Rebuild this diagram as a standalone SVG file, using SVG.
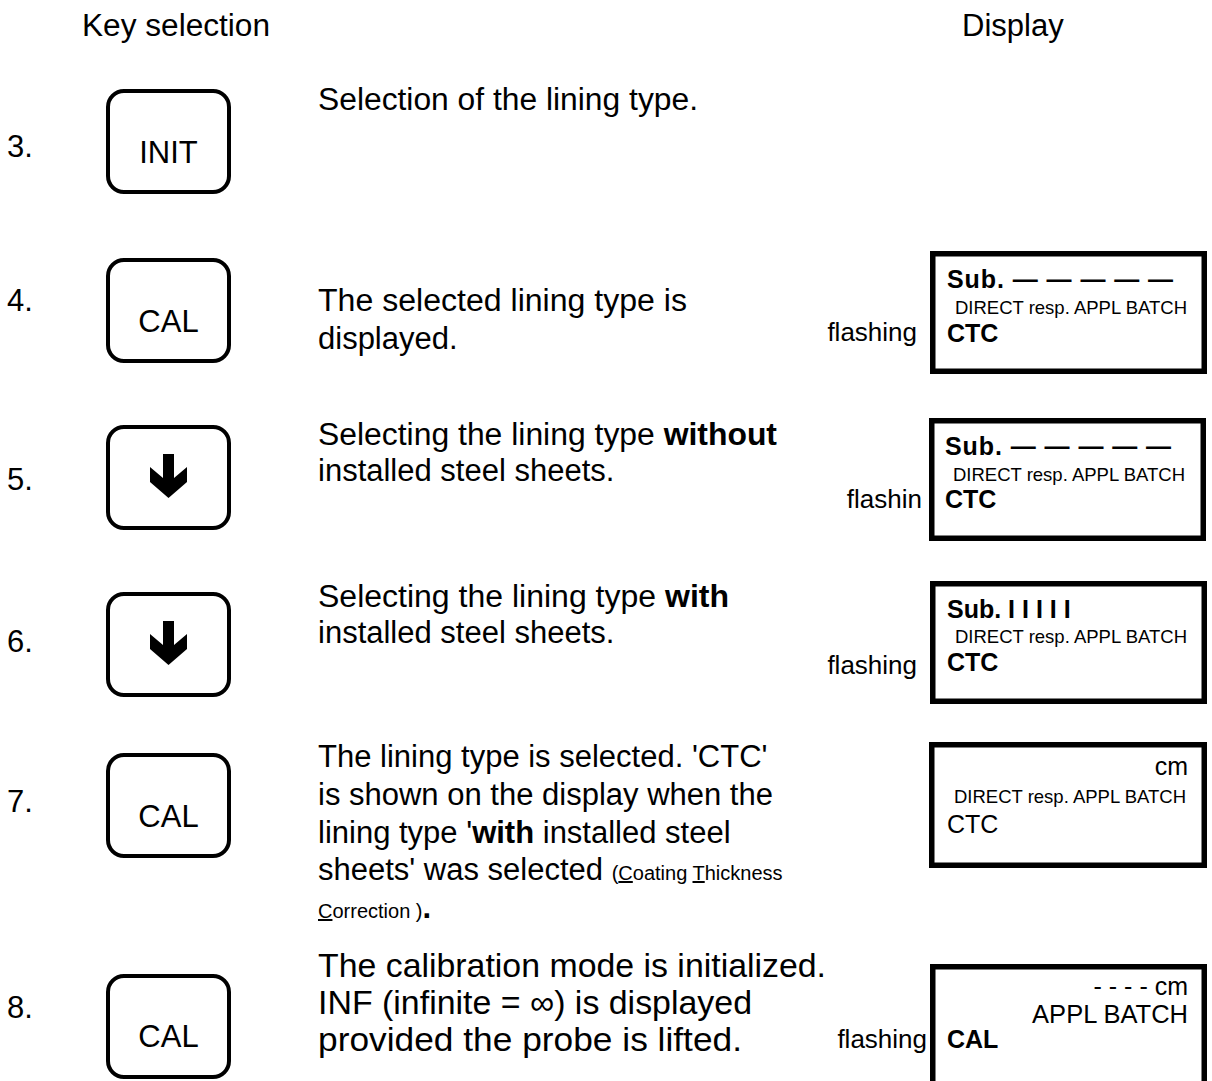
<svg xmlns="http://www.w3.org/2000/svg" width="1212" height="1081" viewBox="0 0 1212 1081">
<style>
text{font-family:"Liberation Sans",Arial,Helvetica,sans-serif;fill:#000}
.t{font-size:31px}
.t8{font-size:33.5px}
.n{font-size:31px}
.k{font-size:31px;text-anchor:middle}
.b{font-weight:bold}
.sm{font-size:20px}
.u{text-decoration:underline}
.dl{font-size:25px}
.ds{font-size:18.5px}
.fl{font-size:26px;text-anchor:end}
.end{text-anchor:end}
.key{fill:#fff;stroke:#000;stroke-width:4}
.disp{fill:#fff;stroke:#000;stroke-width:5.5}
</style>
<defs>
<rect id="keyshape" x="108" y="2" width="121" height="101" rx="16" ry="16"/>
<path id="downarrow" d="M163,29 L174,29 L174,53 L187,42 L187,57 L168.5,73 L150,57 L150,42 L163,53 Z"/>
</defs>
<rect width="1212" height="1081" fill="#fff"/>

<g id="headers">
<text class="t" x="82" y="36" textLength="188" lengthAdjust="spacingAndGlyphs">Key selection</text>
<text class="t" x="962" y="36">Display</text>
</g>

<g id="step3">
<text class="n" x="7" y="157">3.</text>
<g id="key3" transform="translate(0,89)">
<use href="#keyshape" class="key"/>
<text class="k" x="168.5" y="74">INIT</text>
</g>
<text class="t" x="318" y="110" textLength="380" lengthAdjust="spacingAndGlyphs">Selection of the lining type.</text>
</g>

<g id="step4">
<text class="n" x="7" y="311">4.</text>
<g id="key4" transform="translate(0,258)">
<use href="#keyshape" class="key"/>
<text class="k" x="168.5" y="74">CAL</text>
</g>
<text class="t" x="318" y="311" textLength="369" lengthAdjust="spacingAndGlyphs">The selected lining type is</text>
<text class="t" x="318" y="349">displayed.</text>
<g id="display4">
<text class="fl" x="917" y="341">flashing</text>
<rect class="disp" x="932.75" y="253.75" width="271.5" height="117.5"/>
<text class="dl b" x="947" y="288" textLength="226" lengthAdjust="spacing">Sub. — — — — —</text>
<text class="ds" x="955" y="314">DIRECT resp. APPL BATCH</text>
<text class="dl b" x="947" y="342">CTC</text>
</g>
</g>

<g id="step5">
<text class="n" x="7" y="490">5.</text>
<g id="key5" transform="translate(0,425)">
<use href="#keyshape" class="key"/>
<use href="#downarrow"/>
</g>
<text class="t" x="318" y="445" textLength="459" lengthAdjust="spacingAndGlyphs">Selecting the lining type <tspan class="b">without</tspan></text>
<text class="t" x="318" y="481">installed steel sheets.</text>
<g id="display5">
<text class="fl" x="922" y="508">flashin</text>
<rect class="disp" x="931.75" y="420.75" width="271.5" height="117.5"/>
<text class="dl b" x="945" y="455" textLength="226" lengthAdjust="spacing">Sub. — — — — —</text>
<text class="ds" x="953" y="481">DIRECT resp. APPL BATCH</text>
<text class="dl b" x="945" y="508">CTC</text>
</g>
</g>

<g id="step6">
<text class="n" x="7" y="652">6.</text>
<g id="key6" transform="translate(0,592)">
<use href="#keyshape" class="key"/>
<use href="#downarrow"/>
</g>
<text class="t" x="318" y="607" textLength="411" lengthAdjust="spacingAndGlyphs">Selecting the lining type <tspan class="b">with</tspan></text>
<text class="t" x="318" y="643">installed steel sheets.</text>
<g id="display6">
<text class="fl" x="917" y="674">flashing</text>
<rect class="disp" x="932.75" y="583.75" width="271.5" height="117.5"/>
<text class="dl b" x="947" y="618">Sub. I I I I I</text>
<text class="ds" x="955" y="643">DIRECT resp. APPL BATCH</text>
<text class="dl b" x="947" y="671">CTC</text>
</g>
</g>

<g id="step7">
<text class="n" x="7" y="812">7.</text>
<g id="key7" transform="translate(0,753)">
<use href="#keyshape" class="key"/>
<text class="k" x="168.5" y="74">CAL</text>
</g>
<text class="t" x="318" y="767">The lining type is selected. 'CTC'</text>
<text class="t" x="318" y="805">is shown on the display when the</text>
<text class="t" x="318" y="843">lining type '<tspan class="b">with</tspan> installed steel</text>
<text class="t" x="318" y="880">sheets' was selected <tspan class="sm">(<tspan class="u">C</tspan>oating <tspan class="u">T</tspan>hickness</tspan></text>
<text class="t" x="318" y="918"><tspan class="sm"><tspan class="u">C</tspan>orrection )</tspan><tspan class="b">.</tspan></text>
<g id="display7">
<rect class="disp" x="931.75" y="744.75" width="272.5" height="120.5"/>
<text class="dl end" x="1188" y="775">cm</text>
<text class="ds" x="954" y="803">DIRECT resp. APPL BATCH</text>
<text class="dl" x="947" y="833">CTC</text>
</g>
</g>

<g id="step8">
<text class="n" x="7" y="1018">8.</text>
<g id="key8" transform="translate(0,974)">
<use href="#keyshape" class="key"/>
<text class="k" x="168.5" y="73">CAL</text>
</g>
<text class="t8" x="318" y="977" textLength="508" lengthAdjust="spacingAndGlyphs">The calibration mode is initialized.</text>
<text class="t8" x="318" y="1014" textLength="434" lengthAdjust="spacingAndGlyphs">INF (infinite = ∞) is displayed</text>
<text class="t8" x="318" y="1051" textLength="424" lengthAdjust="spacingAndGlyphs">provided the probe is lifted.</text>
<g id="display8">
<text class="fl" x="927" y="1048">flashing</text>
<rect class="disp" x="932.75" y="966.75" width="271.5" height="150"/>
<text class="dl end" x="1188" y="995">- - - - cm</text>
<text class="end" style="font-size:25.5px" x="1188" y="1023">APPL BATCH</text>
<text class="dl b" x="947" y="1048">CAL</text>
</g>
</g>
</svg>
